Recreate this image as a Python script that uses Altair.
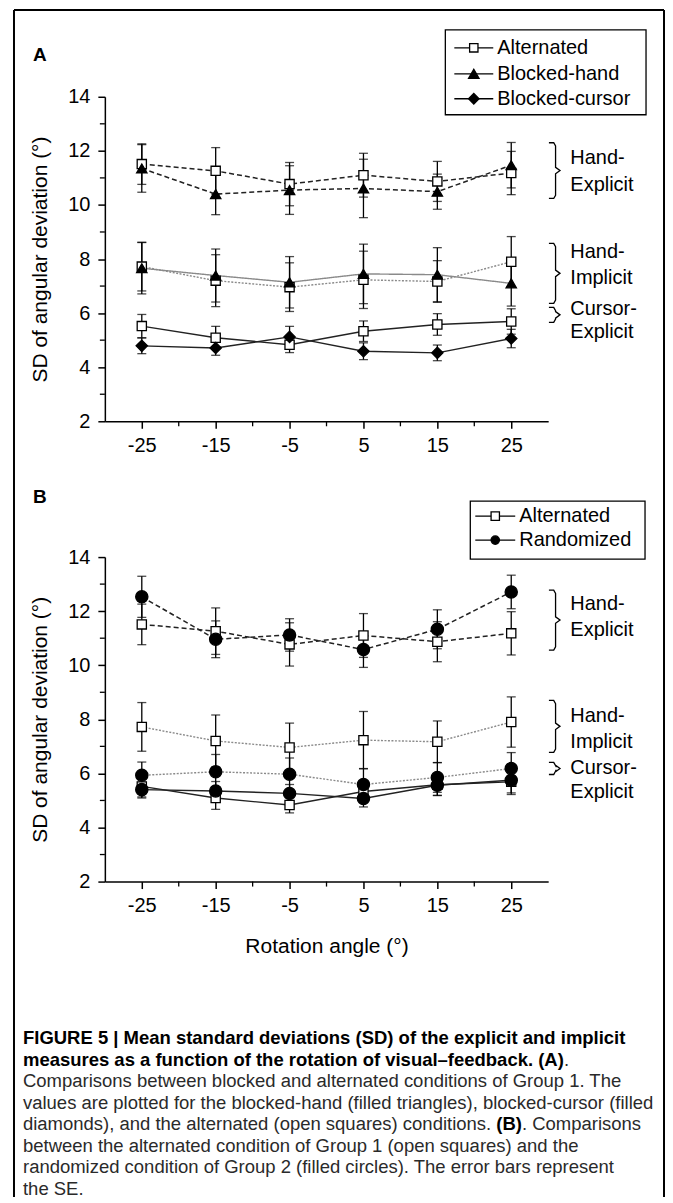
import altair as alt
import pandas as pd

FONT = "Liberation Sans"

# ---------------- data ----------------
angles = [-25, -15, -5, 5, 15, 25]

# Alternated (Group 1) - used in both panels
alt_hand_exp = [11.51, 11.26, 10.77, 11.10, 10.87, 11.18]
alt_hand_exp_se = [0.75, 0.86, 0.80, 0.81, 0.74, 0.80]
alt_hand_imp = [7.72, 7.20, 6.96, 7.23, 7.17, 7.90]
alt_hand_imp_se = [0.90, 0.96, 0.90, 1.06, 0.77, 0.93]
alt_cur_exp = [5.52, 5.09, 4.83, 5.33, 5.58, 5.69]
alt_cur_exp_se = [0.43, 0.42, 0.29, 0.38, 0.40, 0.47]

# Blocked (Group 1) - panel A
bh_hand_exp = [11.35, 10.40, 10.55, 10.61, 10.49, 11.47]
bh_hand_exp_se = [0.88, 0.76, 0.90, 1.08, 0.65, 0.84]
bh_hand_imp = [7.66, 7.39, 7.14, 7.45, 7.42, 7.10]
bh_hand_imp_se = [0.95, 0.98, 0.95, 1.10, 1.00, 0.84]
bc_cur_exp = [4.79, 4.71, 5.12, 4.59, 4.53, 5.06]
bc_cur_exp_se = [0.29, 0.27, 0.39, 0.31, 0.29, 0.34]

# Randomized (Group 2) - panel B
rnd_hand_exp = [12.53, 10.96, 11.12, 10.58, 11.33, 12.71]
rnd_hand_exp_se = [0.76, 0.68, 0.60, 0.66, 0.72, 0.62]
rnd_hand_imp = [5.93, 6.06, 5.97, 5.59, 5.85, 6.18]
rnd_hand_imp_se = [0.49, 0.64, 0.60, 0.59, 0.55, 0.59]
rnd_cur_exp = [5.40, 5.35, 5.26, 5.07, 5.56, 5.75]
rnd_cur_exp_se = [0.27, 0.35, 0.33, 0.31, 0.37, 0.47]

x_ticks = [-25, -15, -5, 5, 15, 25]
x_minor = [-20, -10, 0, 10, 20]
y_ticks = [2, 4, 6, 8, 10, 12, 14]
y_minor = [3, 5, 7, 9, 11, 13]

group_names = [["Hand-", "Explicit"], ["Hand-", "Implicit"], ["Cursor-", "Explicit"]]
brace_A_top = [12.30, 8.58, 6.21]
brace_A_bot = [10.24, 6.36, 5.66]
label_A_y1 = [11.75, 8.25, 6.15]
label_A_y2 = [10.75, 7.30, 5.30]
brace_B_top = [12.78, 8.70, 6.41]
brace_B_bot = [10.56, 6.78, 5.96]
label_B_y1 = [12.26, 8.11, 6.19]
label_B_y2 = [11.30, 7.15, 5.33]

legend_A = [("Alternated", "square", "white"),
            ("Blocked-hand", "triangle-up", "black"),
            ("Blocked-cursor", "diamond", "black")]
legend_B = [("Alternated", "square", "white"),
            ("Randomized", "circle", "black")]

caption = [
    [("FIGURE 5 | Mean standard deviations (SD) of the explicit and implicit", "bold")],
    [("measures as a function of the rotation of visual\u2013feedback. (A)", "bold"), (".", "normal")],
    [("Comparisons between blocked and alternated conditions of Group 1. The", "normal")],
    [("values are plotted for the blocked-hand (filled triangles), blocked-cursor (filled", "normal")],
    [("diamonds), and the alternated (open squares) conditions. ", "normal"), ("(B)", "bold"),
     (". Comparisons", "normal")],
    [("between the alternated condition of Group 1 (open squares) and the", "normal")],
    [("randomized condition of Group 2 (filled circles). The error bars represent", "normal")],
    [("the SE.", "normal")],
]
# advance widths (em) of the leading segments, Arial metrics
seg_em = {
    "measures as a function of the rotation of visual\u2013feedback. (A)": 29.285,
    "diamonds), and the alternated (open squares) conditions. ": 25.624,
    "(B)": 1.388,
}


def series(panel, cond, measure, ys, ses):
    return [dict(panel=panel, cond=cond, measure=measure, x=a, y=v, lo=v - s, hi=v + s)
            for a, v, s in zip(angles, ys, ses)]


rows = []
rows += series("A", "Alternated", "Hand-Explicit", alt_hand_exp, alt_hand_exp_se)
rows += series("A", "Alternated", "Hand-Implicit", alt_hand_imp, alt_hand_imp_se)
rows += series("A", "Alternated", "Cursor-Explicit", alt_cur_exp, alt_cur_exp_se)
rows += series("A", "Blocked-hand", "Hand-Explicit", bh_hand_exp, bh_hand_exp_se)
rows += series("A", "Blocked-hand", "Hand-Implicit", bh_hand_imp, bh_hand_imp_se)
rows += series("A", "Blocked-cursor", "Cursor-Explicit", bc_cur_exp, bc_cur_exp_se)
rows += series("B", "Alternated", "Hand-Explicit", alt_hand_exp, alt_hand_exp_se)
rows += series("B", "Alternated", "Hand-Implicit", alt_hand_imp, alt_hand_imp_se)
rows += series("B", "Alternated", "Cursor-Explicit", alt_cur_exp, alt_cur_exp_se)
rows += series("B", "Randomized", "Hand-Explicit", rnd_hand_exp, rnd_hand_exp_se)
rows += series("B", "Randomized", "Hand-Implicit", rnd_hand_imp, rnd_hand_imp_se)
rows += series("B", "Randomized", "Cursor-Explicit", rnd_cur_exp, rnd_cur_exp_se)
df = pd.DataFrame(rows)

one = pd.DataFrame({"k": [0]})

# ---------------- layout constants ----------------
W, H = 444, 325
XS = alt.Scale(domain=[-30, 30], nice=False, zero=False)
YS = alt.Scale(domain=[2, 14], nice=False, zero=False)
conds = ["Alternated", "Blocked-hand", "Blocked-cursor", "Randomized"]
shape_sc = alt.Scale(domain=conds, range=["square", "triangle-up", "diamond", "circle"])
fill_sc = alt.Scale(domain=conds, range=["white", "black", "black", "black"])
size_sc = alt.Scale(domain=conds, range=[85, 150, 155, 120])
dash_sc = alt.Scale(domain=["Alternated", "Blocked-hand", "Randomized"],
                    range=[[2, 1.5], [1, 0], [2, 1.5]])


def xenc(title):
    ax = alt.Axis(values=x_ticks, labelFontSize=20, tickSize=7, labelPadding=7,
                  titleFontSize=21, titleFontWeight="normal", titlePadding=20,
                  labelFlush=False, labelExpr="'' + datum.value")
    return alt.X("x:Q", scale=XS, title=title, axis=ax)


def yenc():
    return alt.Y("y:Q", scale=YS, title="SD of angular deviation (\u00b0)",
                 axis=alt.Axis(values=y_ticks, labelFontSize=20, tickSize=7, labelPadding=8,
                               titleFontSize=21, titleFontWeight="normal", titlePadding=17))


def text_layer(txt, x, y, size=20, weight="normal", color="black", align="left", baseline="middle"):
    return alt.Chart(one).mark_text(text=txt, fontSize=size, fontWeight=weight, color=color,
                                    align=align, baseline=baseline, font=FONT).encode(
        x=alt.value(x), y=alt.value(y))


def panel(p, letter, xtitle, legend, lbox, lrows, sym, txt_x, btop, bbot, ly1, ly2, frame, cap):
    d = df[df.panel == p]
    base = alt.Chart(d)
    layers = []
    # minor ticks
    layers.append(alt.Chart(pd.DataFrame({"v": x_minor})).mark_rule(color="black", strokeWidth=1.3)
                  .encode(x=alt.X("v:Q", scale=XS), y=alt.value(H), y2=alt.value(H + 5)))
    layers.append(alt.Chart(pd.DataFrame({"v": y_minor})).mark_rule(color="black", strokeWidth=1.3)
                  .encode(y=alt.Y("v:Q", scale=YS), x=alt.value(-5), x2=alt.value(0)))
    # lines
    layers.append(base.transform_filter("datum.measure == 'Hand-Explicit'")
                  .mark_line(color="#222", strokeWidth=1.5, strokeDash=[5, 3])
                  .encode(x=xenc(xtitle), y=yenc(), detail="cond:N"))
    layers.append(base.transform_filter("datum.measure == 'Hand-Implicit'")
                  .mark_line(color="#8a8a8a", strokeWidth=1.4)
                  .encode(x="x:Q", y="y:Q", detail="cond:N",
                          strokeDash=alt.StrokeDash("cond:N", scale=dash_sc, legend=None)))
    layers.append(base.transform_filter("datum.measure == 'Cursor-Explicit'")
                  .mark_line(color="#222", strokeWidth=1.4)
                  .encode(x="x:Q", y="y:Q", detail="cond:N"))
    # error bars
    layers.append(base.mark_rule(color="black", strokeWidth=1.3).encode(x="x:Q", y="lo:Q", y2="hi:Q"))
    layers.append(base.mark_tick(color="black", thickness=1.3, size=9, orient="horizontal")
                  .encode(x="x:Q", y="lo:Q"))
    layers.append(base.mark_tick(color="black", thickness=1.3, size=9, orient="horizontal")
                  .encode(x="x:Q", y="hi:Q"))
    # markers
    layers.append(base.mark_point(filled=True, stroke="black", strokeWidth=1.3, opacity=1)
                  .encode(x="x:Q", y="y:Q",
                          shape=alt.Shape("cond:N", scale=shape_sc, legend=None),
                          fill=alt.Fill("cond:N", scale=fill_sc, legend=None),
                          size=alt.Size("cond:N", scale=size_sc, legend=None)))
    # group braces + labels
    brows = []
    for gi, (t, b) in enumerate(zip(btop, bbot)):
        tip = (t + b) / 2
        pts = [(30.1, t), (30.75, t), (31.0, t - 0.12), (31.0, tip + 0.12), (31.6, tip),
               (31.0, tip - 0.12), (31.0, b + 0.12), (30.75, b), (30.1, b)]
        for k, (bx, by) in enumerate(pts):
            brows.append(dict(g=gi, k=k, bx=bx, by=by))
    layers.append(alt.Chart(pd.DataFrame(brows)).mark_line(color="black", strokeWidth=1.3, clip=False)
                  .encode(x=alt.X("bx:Q", scale=XS), y=alt.Y("by:Q", scale=YS),
                          detail="g:N", order="k:Q"))
    lab = []
    for (n1, n2), a, b in zip(group_names, ly1, ly2):
        lab.append(dict(t=n1, lx=33.0, ly=a))
        lab.append(dict(t=n2, lx=33.0, ly=b))
    layers.append(alt.Chart(pd.DataFrame(lab)).mark_text(align="left", baseline="middle", fontSize=20,
                                                          font=FONT, color="black", clip=False)
                  .encode(x=alt.X("lx:Q", scale=XS), y=alt.Y("ly:Q", scale=YS), text="t:N"))
    # panel letter
    layers.append(text_layer(letter[0], letter[1], letter[2], size=19, weight="bold"))
    # legend box
    x0, x1, y0, y1 = lbox
    layers.append(alt.Chart(one).mark_rect(fill="white", stroke="black", strokeWidth=1.3)
                  .encode(x=alt.value(x0), x2=alt.value(x1), y=alt.value(y0), y2=alt.value(y1)))
    for (name, shp, fl), ry in zip(legend, lrows):
        layers.append(alt.Chart(one).mark_rule(color="black", strokeWidth=1.3)
                      .encode(x=alt.value(sym[0]), x2=alt.value(sym[1]), y=alt.value(ry)))
        layers.append(alt.Chart(one).mark_point(filled=True, stroke="black", strokeWidth=1.3, opacity=1)
                      .encode(x=alt.value((sym[0] + sym[1]) / 2), y=alt.value(ry),
                              shape=alt.value(shp), fill=alt.value(fl),
                              size=alt.value(70 if shp in ("square", "circle") else 110)))
        layers.append(text_layer(name, txt_x, ry, size=20))
    # frame
    if frame:
        fl_, fr_, ft_, fb_ = frame
        layers.append(alt.Chart(one).mark_rule(color="black", strokeWidth=2)
                      .encode(x=alt.value(fl_), x2=alt.value(fr_), y=alt.value(ft_)))
        layers.append(alt.Chart(one).mark_rule(color="black", strokeWidth=2)
                      .encode(x=alt.value(fl_), y=alt.value(ft_), y2=alt.value(fb_)))
        layers.append(alt.Chart(one).mark_rule(color="black", strokeWidth=2)
                      .encode(x=alt.value(fr_), y=alt.value(ft_), y2=alt.value(fb_)))
    # caption
    if cap:
        cx, cy0, dy, fs = cap
        for i, segs in enumerate(caption):
            xx = cx
            for s, w in segs:
                layers.append(text_layer(s, xx, cy0 + i * dy, size=fs, weight=w,
                                         color="black" if w == "bold" else "#2a2a2a"))
                xx += seg_em.get(s, 0) * fs
    return alt.layer(*layers).properties(width=W, height=H)


pA = panel("A", ("A", -72, -42), None, legend_A, (341, 542, -67, 18), [-49, -23, 2],
           (350, 389), 393, brace_A_top, brace_A_bot, label_A_y1, label_A_y2,
           (-91, 560, -87, 1102), None)
pB = panel("B", ("B", -72, -60), "Rotation angle (\u00b0)", legend_B, (366, 541, -56, 2),
           [-41, -17], (371, 411), 415, brace_B_top, brace_B_bot, label_B_y1, label_B_y2,
           None, (-82, 482, 21.5, 18.5))

chart = alt.vconcat(pA, pB, spacing=136, bounds="flush").properties(
    padding={"left": 5, "top": 0, "right": 0, "bottom": 0}
).configure(font=FONT).configure_view(stroke=None).configure_axis(
    domainColor="black", domainWidth=1.5, tickColor="black", tickWidth=1.5,
    labelColor="black", titleColor="black", grid=False, labelFont=FONT, titleFont=FONT
)

chart.save("out.html", embed_options={"renderer": "svg", "actions": False})
